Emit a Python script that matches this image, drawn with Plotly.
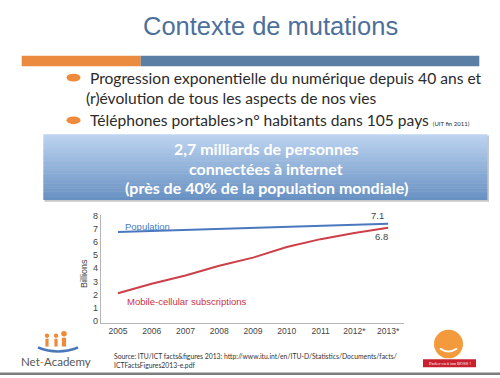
import plotly.graph_objects as go

W, H = 500, 378

# ---- data ----
years = ["2005", "2006", "2007", "2008", "2009", "2010", "2011", "2012*", "2013*"]
population = [6.74, 6.82, 6.90, 6.97, 7.05, 7.13, 7.20, 7.28, 7.36]
mobile = [2.10, 2.82, 3.44, 4.18, 4.80, 5.60, 6.20, 6.66, 7.06]
y_ticks = [0, 1, 2, 3, 4, 5, 6, 7, 8]
pop_end_label = "7.1"
mob_end_label = "6.8"

title = "Contexte de mutations"
bullets = [
    "Progression exponentielle du numérique depuis 40 ans et",
    "(r)évolution de tous les aspects de nos vies",
    "Téléphones portables>n° habitants dans 105 pays <span style='font-size:6px'>(UIT fin 2011)</span>",
]
box_lines = [
    "2,7 milliards de personnes",
    "connectées à internet",
    "(près de 40% de la population mondiale)",
]
source_lines = [
    "Source: ITU/ICT facts&amp;figures 2013: http://www.itu.int/en/ITU-D/Statistics/Documents/facts/",
    "ICTFactsFigures2013-e.pdf",
]


def X(px):
    return px / W


def Y(py):
    return 1 - py / H


fig = go.Figure()
fig.add_trace(go.Scatter(x=years, y=population, mode="lines",
                         line=dict(color="#4a78bf", width=2), hoverinfo="skip"))
fig.add_trace(go.Scatter(x=years, y=mobile, mode="lines",
                         line=dict(color="#cc3f48", width=2), hoverinfo="skip"))

shapes = []
# header bar
shapes.append(dict(type="rect", xref="paper", yref="paper", x0=X(21.7), x1=X(140.7),
                   y0=Y(63.3), y1=Y(52.7), fillcolor="#ea8b3f", line_width=0, layer="below"))
shapes.append(dict(type="rect", xref="paper", yref="paper", x0=X(140.7), x1=X(479.3),
                   y0=Y(63.3), y1=Y(52.7), fillcolor="#5b7fa4", line_width=0, layer="below"))
# bullets
for by in (75, 118.5):
    shapes.append(dict(type="circle", xref="paper", yref="paper", x0=X(66.5), x1=X(80.5),
                       y0=Y(by + 4), y1=Y(by - 4), fillcolor="#ee8a3a", line_width=0))
# box shadow
shapes.append(dict(type="rect", xref="paper", yref="paper", x0=X(44.5), x1=X(489),
                   y0=Y(201.5), y1=Y(134), fillcolor="rgba(0,0,0,0.22)", line_width=0, layer="below"))
# gradient box
top = (188, 212, 241)
bot = (104, 145, 195)
y_top, y_bot = 132.7, 199.3
n = 40
for i in range(n):
    t = i / (n - 1)
    c = tuple(int(round(top[k] + (bot[k] - top[k]) * t)) for k in range(3))
    y0 = y_top + (y_bot - y_top) * i / n
    y1 = y_top + (y_bot - y_top) * (i + 1) / n
    shapes.append(dict(type="rect", xref="paper", yref="paper", x0=X(43.3), x1=X(487.3),
                       y0=Y(y1 + 0.3), y1=Y(y0), fillcolor="rgb(%d,%d,%d)" % c,
                       line_width=0, layer="below"))
# bottom gray band
shapes.append(dict(type="rect", xref="paper", yref="paper", x0=0, x1=1,
                   y0=0, y1=Y(375.5), fillcolor="#7d7d7d", line_width=0))
# Net-Academy logo (simple)
shapes.append(dict(type="path", xref="paper", yref="paper",
                   path="M %f %f Q %f %f %f %f" % (X(38), Y(350), X(58), Y(358), X(78), Y(350)),
                   line=dict(color="#4a78b8", width=2.5)))
for cx, cy, r in [(47, 338, 2.2), (56, 338, 2.2), (64, 336, 2.8)]:
    shapes.append(dict(type="circle", xref="paper", yref="paper", x0=X(cx - r), x1=X(cx + r),
                       y0=Y(cy + r), y1=Y(cy - r), fillcolor="#ee8a3a", line_width=0))
for cx, cy0, cy1, w in [(47, 341, 349, 3.2), (56, 341, 349, 3.2), (64, 340, 349, 4.2)]:
    shapes.append(dict(type="rect", xref="paper", yref="paper", x0=X(cx - w / 2), x1=X(cx + w / 2),
                       y0=Y(cy1), y1=Y(cy0), fillcolor="#ee8a3a", line_width=0))
# badge (simple)
shapes.append(dict(type="circle", xref="paper", yref="paper", x0=X(434), x1=X(463),
                   y0=Y(361), y1=Y(332), fillcolor="#f29a3c", line_width=0))
shapes.append(dict(type="rect", xref="paper", yref="paper", x0=X(423), x1=X(476),
                   y0=Y(370), y1=Y(362), fillcolor="#c8202e", line_width=0))
shapes.append(dict(type="path", xref="paper", yref="paper",
                   path="M %f %f Q %f %f %f %f" % (X(440), Y(351), X(448.5), Y(357), X(457), Y(351)),
                   line=dict(color="white", width=2)))

ann = []
ann.append(dict(text=title, x=X(270.5), y=Y(22.5), xref="paper", yref="paper",
                showarrow=False, xanchor="center", yanchor="middle",
                font=dict(family="Liberation Sans", size=25.5, color="#4d709a")))
for txt, bx, by in [(bullets[0], 88, 75), (bullets[1], 84, 96), (bullets[2], 88, 118.5)]:
    ann.append(dict(text=txt, x=X(bx), y=Y(by), xref="paper", yref="paper",
                    showarrow=False, xanchor="left", yanchor="middle",
                    font=dict(family="Lato", size=15.6, color="#2b2b2b")))
for txt, by in zip(box_lines, [147, 167.5, 187]):
    ann.append(dict(text="<b>%s</b>" % txt, x=X(266), y=Y(by), xref="paper", yref="paper",
                    showarrow=False, xanchor="center", yanchor="middle",
                    font=dict(family="Lato", size=16, color="white")))
# chart labels
ann.append(dict(text="Population", x=X(122.5), y=Y(227), xref="paper", yref="paper",
                showarrow=False, xanchor="left", yanchor="middle",
                font=dict(family="Liberation Sans", size=9.5, color="#4a78bf")))
ann.append(dict(text="Mobile-cellular subscriptions", x=X(125), y=Y(303), xref="paper", yref="paper",
                showarrow=False, xanchor="left", yanchor="middle",
                font=dict(family="Liberation Sans", size=9.5, color="#cc3044")))
ann.append(dict(text=pop_end_label, x=X(377), y=Y(215.5), xref="paper", yref="paper",
                showarrow=False, xanchor="center", yanchor="middle",
                font=dict(family="Liberation Sans", size=9.5, color="#444")))
ann.append(dict(text=mob_end_label, x=X(381), y=Y(237), xref="paper", yref="paper",
                showarrow=False, xanchor="center", yanchor="middle",
                font=dict(family="Liberation Sans", size=9.5, color="#444")))
ann.append(dict(text="Billions", x=X(84.5), y=Y(274.5), xref="paper", yref="paper",
                showarrow=False, xanchor="center", yanchor="middle", textangle=-90,
                font=dict(family="Liberation Sans", size=9, color="#444")))
# source
for txt, by in zip(source_lines, [358.5, 368]):
    ann.append(dict(text=txt, x=X(111.5), y=Y(by), xref="paper", yref="paper",
                    showarrow=False, xanchor="left", yanchor="middle",
                    font=dict(family="Lato", size=6.8, color="#333")))
# logo text
ann.append(dict(text="Net<span style='color:#ee8a3a'>-</span>Academy", x=X(56), y=Y(364),
                xref="paper", yref="paper", showarrow=False, xanchor="center", yanchor="middle",
                font=dict(family="Lato", size=11.5, color="#555")))
ann.append(dict(text="Parlez-en à ton BOSS !", x=X(449.5), y=Y(366), xref="paper", yref="paper",
                showarrow=False, xanchor="center", yanchor="middle",
                font=dict(family="Liberation Serif", size=4.5, color="white")))

fig.update_layout(
    width=W, height=H, margin=dict(l=0, r=0, t=0, b=0),
    paper_bgcolor="white", plot_bgcolor="white",
    showlegend=False, shapes=shapes, annotations=ann,
    xaxis=dict(domain=[X(100.7), X(404)], type="category", range=[-0.51, 8.47],
               showgrid=False, zeroline=False, showline=True, linecolor="#b5b5b5", linewidth=1,
               ticks="", tickfont=dict(family="Liberation Sans", size=8.5, color="#444"),
               fixedrange=True),
    yaxis=dict(domain=[Y(325), Y(214.7)], range=[-0.15, 8.05], tickvals=y_ticks,
               showgrid=False, zeroline=False, showline=True, linecolor="#b5b5b5", linewidth=1,
               ticks="", tickfont=dict(family="Liberation Sans", size=9, color="#444"),
               fixedrange=True),
)

fig.write_html("out.html", config={"displayModeBar": False},
               post_script="document.body.style.margin='0';document.body.style.overflow='hidden';")
